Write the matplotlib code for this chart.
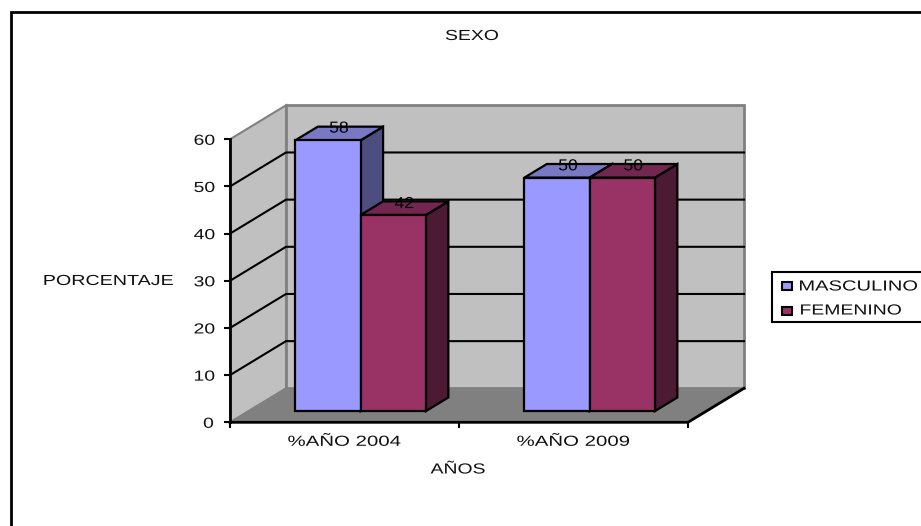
import matplotlib
matplotlib.use('Agg')
import matplotlib.pyplot as plt
from matplotlib.patches import Polygon, Rectangle
from matplotlib.patheffects import AbstractPathEffect
from matplotlib.transforms import Affine2D

plt.rcParams['font.family'] = ['Liberation Sans', 'DejaVu Sans']

categories = ['%AÑO 2004', '%AÑO 2009']
masculino = [58, 50]
femenino = [42, 50]
y_ticks = [0, 10, 20, 30, 40, 50, 60]
series_names = ['MASCULINO', 'FEMENINO']
title = 'SEXO'
x_title = 'AÑOS'
y_title = 'PORCENTAJE'

W, H = 921, 526
# depth of the fake 3D box, in category units and value units
DX = 56 / 229
DY = 34 / 4.717
BAR_D0, BAR_D1 = 0.33, 0.73
BAR_W = 0.285
BAR_Y = 0.99  # bars come out slightly shorter than the wall scale


class Stretch(AbstractPathEffect):
    # the letters in the picture are wider than any installed font
    def __init__(self, sx=1.33):
        super().__init__()
        self.sx = sx

    def draw_path(self, renderer, gc, tpath, affine, rgbFace=None):
        ext = affine.transform_path(tpath).get_extents()
        cx = (ext.x0 + ext.x1) / 2
        st = Affine2D().translate(-cx, 0).scale(self.sx, 1).translate(cx, 0)
        renderer.draw_path(gc, tpath, affine + st, rgbFace)


def proj(x, y, d):
    return (x + d * DX, y + d * DY)


def box(ax, x0, x1, val, front, top, side):
    d0, d1 = BAR_D0, BAR_D1
    val = val * BAR_Y
    faces = [
        ([proj(x1, 0, d0), proj(x1, 0, d1), proj(x1, val, d1), proj(x1, val, d0)], side),
        ([proj(x0, val, d0), proj(x1, val, d0), proj(x1, val, d1), proj(x0, val, d1)], top),
        ([proj(x0, 0, d0), proj(x1, 0, d0), proj(x1, val, d0), proj(x0, val, d0)], front),
    ]
    for pts, col in faces:
        ax.add_patch(Polygon(pts, closed=True, fc=col, ec='black', lw=1.6, zorder=5, clip_on=False, joinstyle='miter'))


fig = plt.figure(figsize=(W / 100, H / 100), dpi=100)
# outer frame
fig.add_artist(Rectangle((10.5 / W, -5 / H), 915 / W, (H + 5 - 11.5) / H, transform=fig.transFigure,
                         fc='white', ec='black', lw=2, zorder=-1))

ax = fig.add_axes([230 / W, 1 - 422.3 / H, 458 / W, 283 / H])
ax.set_xlim(0, 2)
ax.set_ylim(0, 60)
ax.patch.set_visible(False)
for s in ax.spines.values():
    s.set_visible(False)

ymax = y_ticks[-1]
# walls and floor
ax.add_patch(Polygon([proj(0, 0, 0), proj(0, 0, 1), proj(0, ymax, 1), proj(0, ymax, 0)],
                     fc='#C0C0C0', ec='#808080', lw=1.5, zorder=1, clip_on=False))
ax.add_patch(Polygon([proj(0, 0, 1), proj(2, 0, 1), proj(2, ymax, 1), proj(0, ymax, 1)],
                     fc='#C0C0C0', ec='#808080', lw=2, zorder=1, clip_on=False))
ax.add_patch(Polygon([proj(0, 0, 0), proj(2, 0, 0), proj(2, 0, 1), proj(0, 0, 1)],
                     fc='#808080', ec='none', zorder=2, clip_on=False))

# gridlines run along the side wall and the back wall
for v in y_ticks[1:-1]:
    ax.plot(*zip(proj(0, v, 0), proj(0, v, 1), proj(2, v, 1)), color='black', lw=1.5, zorder=3, clip_on=False)

# front edges of the box
ax.plot([0, 0], [0, ymax], color='black', lw=2, zorder=4, clip_on=False)
ax.plot(*zip(proj(0, 0, 0), proj(2, 0, 0), proj(2, 0, 1)), color='black', lw=2, zorder=4, clip_on=False)

fm_front = ['#9999FF', '#993366']
fm_top = ['#7878C4', '#732650']
fm_side = ['#4D4D80', '#4D1A33']
effect = [Stretch()]
for i, cat in enumerate(categories):
    c = i + 0.49
    for j, vals in enumerate([masculino, femenino]):
        x0 = c - BAR_W + j * BAR_W
        box(ax, x0, x0 + BAR_W, vals[i], fm_front[j], fm_top[j], fm_side[j])
        lx, ly = proj(x0 + BAR_W / 2, vals[i], 0.525)
        ax.annotate(str(vals[i]), (lx, ly), xytext=(0, 2), textcoords='offset points', ha='center', va='center',
                    fontsize=11.5, color='black', zorder=6, annotation_clip=False, path_effects=[Stretch(1.1)])

ax.set_xticks([0, 1, 2])
ax.set_xticks([0.5, 1.5], labels=categories, minor=True)
ax.set_xticklabels([])
ax.tick_params(axis='x', which='major', length=4.5, width=1.5, color='black')
ax.tick_params(axis='x', which='minor', length=0, pad=9, labelsize=10.5)
ax.set_yticks(y_ticks)
ax.tick_params(axis='y', length=4.5, width=1.5, color='black', pad=8, labelsize=10.5)
for t in ax.get_xticklabels(minor=True):
    t.set_path_effects([Stretch(1.4)])
    t.set_color('#111111')
for t in ax.get_yticklabels():
    t.set_path_effects(effect)
    t.set_color('#111111')

fig.text(472 / W, 1 - 36 / H, title, ha='center', va='center', fontsize=10.5, color='#111111', path_effects=effect)
fig.text(458 / W, 1 - 469.5 / H, x_title, ha='center', va='center', fontsize=10.5, color='#111111', path_effects=effect)
fig.text(108.5 / W, 1 - 281 / H, y_title, ha='center', va='center', fontsize=10.5, color='#111111', path_effects=[Stretch(1.35)])

# legend box, built by hand because the stretched text would overrun a real legend frame
fig.add_artist(Rectangle((771.5 / W, 1 - 322 / H), 160 / W, 50 / H, transform=fig.transFigure,
                         fc='white', ec='black', lw=1.5))
for k, name in enumerate(series_names):
    yy = 286 + k * 25
    fig.add_artist(Rectangle((781.5 / W, 1 - (yy + 4) / H), 10 / W, 8 / H, transform=fig.transFigure,
                             fc=fm_front[k], ec='black', lw=1.5))
fig.text(858.5 / W, 1 - 286.5 / H, series_names[0], ha='center', va='center', fontsize=10.5, color='#111111', path_effects=[Stretch(1.38)])
fig.text(851 / W, 1 - 310.5 / H, series_names[1], ha='center', va='center', fontsize=10.5, color='#111111', path_effects=effect)

fig.savefig('out.png', dpi=100)
